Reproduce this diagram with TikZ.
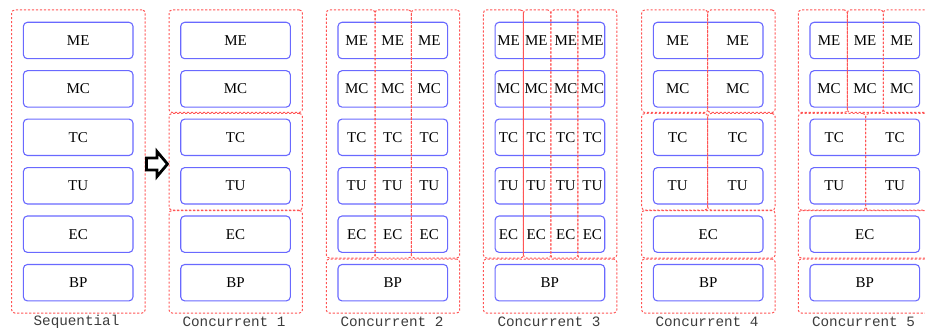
\documentclass[tikz,border=0pt]{standalone}
\usepackage{fontspec}
\setmainfont{Liberation Serif}
\newfontfamily\capfont{Liberation Mono}
\definecolor{boxblue}{RGB}{105,105,255}
\definecolor{dashred}{RGB}{255,85,85}
\definecolor{capgray}{RGB}{60,60,60}
\newcommand\grpnode[5]{%
  \pgfmathsetmacro\gw{#4-#2}\pgfmathsetmacro\gh{#5-#3}%
  \pgfmathsetmacro\gx{(#2+#4)/2}\pgfmathsetmacro\gy{(#3+#5)/2}%
  \node[grp,minimum width=\gw pt,minimum height=\gh pt] (#1) at (\gx,\gy) {};}
\begin{document}
\begin{tikzpicture}[x=1pt,y=-1pt,
  blk/.style={draw=boxblue,line width=1.1pt,rounded corners=4pt,minimum width=109.6pt,minimum height=36.4pt,inner sep=0pt,font=\fontsize{15}{17}\selectfont},
  lbl/.style={inner sep=0pt,font=\fontsize{15}{17}\selectfont},
  grp/.style={draw=dashred,line width=1pt,dash pattern=on 2.2pt off 1.8pt,rounded corners=3pt,inner sep=0pt},
  captext/.style={inner sep=0pt,text=capgray,font=\capfont\fontsize{14.3}{16}\selectfont},
  bigarrow/.style={draw=black,line width=2.8pt,fill=white,line join=miter}]
\useasboundingbox (0,0) rectangle (925,331);
\def\rows{{40.5,88.9,137.3,185.8,234.2,282.7}}
% ================= Sequential (L=11.7)
\foreach \t [count=\i from 0] in {ME,MC,TC,TU,EC,BP}{
  \pgfmathsetmacro{\yy}{\rows[\i]}
  \node[blk] (s\t) at (78.2,\yy) {\t};
}
\grpnode{sg}{11.7}{10}{145.1}{313}
\node[captext] (scap) at (76.5,322) {Sequential};
% arrow
\draw[bigarrow] (146.5,158) -- (157,158) -- (157,151.5) -- (167.5,164) -- (157,176.5) -- (157,170) -- (146.5,170) -- cycle;
% ================= Concurrent 1 (L=169)
\foreach \t [count=\i from 0] in {ME,MC,TC,TU,EC,BP}{
  \pgfmathsetmacro{\yy}{\rows[\i]}
  \node[blk] (a\t) at (235.5,\yy) {\t};
}
\grpnode{ag1}{169}{10}{302.4}{112.5}
\grpnode{ag2}{169}{113.5}{302.4}{210}
\grpnode{ag3}{169}{210.5}{302.4}{313}
\node[captext] (acap) at (234,322) {Concurrent 1};
% ================= Concurrent 2 (L=326.3)
\foreach \t [count=\i from 0] in {ME,MC,TC,TU,EC}{
  \pgfmathsetmacro{\yy}{\rows[\i]}
  \node[blk] (b\t) at (392.8,\yy) {};
  \node[lbl] (b\t1) at (356.7,\yy) {\t};
  \node[lbl] (b\t2) at (392.7,\yy) {\t};
  \node[lbl] (b\t3) at (429.3,\yy) {\t};
}
\node[blk] (bBP) at (392.8,282.7) {BP};
\grpnode{bg1}{326.3}{10}{375}{258}
\grpnode{bg2}{375}{10}{411.3}{258}
\grpnode{bg3}{411.3}{10}{459.7}{258}
\grpnode{bg4}{326.3}{259}{459.7}{313}
\node[captext] (bcap) at (392,322) {Concurrent 2};
% ================= Concurrent 3 (L=483.4)
\foreach \t [count=\i from 0] in {ME,MC,TC,TU,EC}{
  \pgfmathsetmacro{\yy}{\rows[\i]}
  \node[blk] (c\t) at (549.9,\yy) {};
  \node[lbl] (c\t1) at (508.5,\yy) {\t};
  \node[lbl] (c\t2) at (536.3,\yy) {\t};
  \node[lbl] (c\t3) at (565.8,\yy) {\t};
  \node[lbl] (c\t4) at (592.4,\yy) {\t};
}
\node[blk] (cBP) at (549.9,282.7) {BP};
\grpnode{cg1}{483.4}{10}{523.4}{258}
\grpnode{cg2}{523.4}{10}{550.8}{258}
\grpnode{cg3}{550.8}{10}{577.8}{258}
\grpnode{cg4}{577.8}{10}{616.8}{258}
\grpnode{cg5}{483.4}{259}{616.8}{313}
\node[captext] (ccap) at (549,322) {Concurrent 3};
% ================= Concurrent 4 (L=641.7)
\foreach \t [count=\i from 0] in {ME,MC,TC,TU}{
  \pgfmathsetmacro{\yy}{\rows[\i]}
  \node[blk] (d\t) at (708.2,\yy) {};
  \node[lbl] (d\t1) at (677.7,\yy) {\t};
  \node[lbl] (d\t2) at (737.7,\yy) {\t};
}
\node[blk] (dEC) at (708.2,234.2) {EC};
\node[blk] (dBP) at (708.2,282.7) {BP};
\grpnode{dg1}{641.7}{10}{707.7}{112.5}
\grpnode{dg2}{707.7}{10}{775.1}{112.5}
\grpnode{dg3}{641.7}{113.5}{707.7}{210}
\grpnode{dg4}{707.7}{113.5}{775.1}{210}
\grpnode{dg5}{641.7}{210.5}{775.1}{258}
\grpnode{dg6}{641.7}{259}{775.1}{313}
\node[captext] (dcap) at (707,322) {Concurrent 4};
% ================= Concurrent 5 (L=798.3)
\foreach \t [count=\i from 0] in {ME,MC}{
  \pgfmathsetmacro{\yy}{\rows[\i]}
  \node[blk] (e\t) at (864.8,\yy) {};
  \node[lbl] (e\t1) at (829,\yy) {\t};
  \node[lbl] (e\t2) at (865,\yy) {\t};
  \node[lbl] (e\t3) at (901.7,\yy) {\t};
}
\foreach \t [count=\i from 2] in {TC,TU}{
  \pgfmathsetmacro{\yy}{\rows[\i]}
  \node[blk] (e\t) at (864.8,\yy) {};
  \node[lbl] (e\t1) at (834.3,\yy) {\t};
  \node[lbl] (e\t2) at (895,\yy) {\t};
}
\node[blk] (eEC) at (864.8,234.2) {EC};
\node[blk] (eBP) at (864.8,282.7) {BP};
\grpnode{eg1}{798.3}{10}{847.3}{112.5}
\grpnode{eg2}{847.3}{10}{883.3}{112.5}
\grpnode{eg3}{883.3}{10}{931.7}{112.5}
\grpnode{eg4}{798.3}{113.5}{865.7}{210}
\grpnode{eg5}{865.7}{113.5}{931.7}{210}
\grpnode{eg6}{798.3}{210.5}{931.7}{258}
\grpnode{eg7}{798.3}{259}{931.7}{313}
\node[captext] (ecap) at (863.5,322) {Concurrent 5};
\end{tikzpicture}
\end{document}
